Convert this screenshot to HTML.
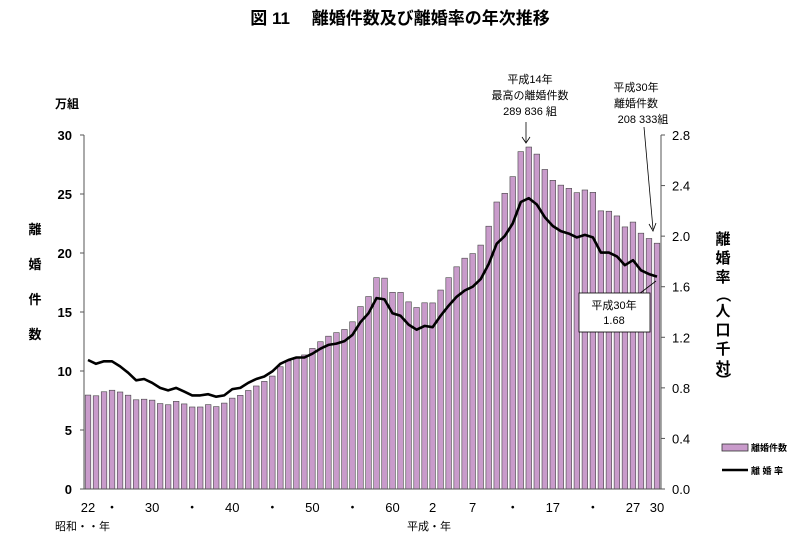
<!DOCTYPE html>
<html><head><meta charset="utf-8"><style>
body{margin:0;background:#fff;font-family:"Liberation Sans","Noto Sans CJK JP",sans-serif}
svg text{font-family:"Liberation Sans","Noto Sans CJK JP",sans-serif}
</style></head><body>
<svg id="c" width="801" height="540" viewBox="0 0 801 540">
<text x="400" y="24" text-anchor="middle" font-size="17" font-weight="bold">図 11　 離婚件数及び離婚率の年次推移</text>
<text x="55" y="108" font-size="12" font-weight="bold">万組</text>
<g font-size="13" font-weight="bold" text-anchor="middle">
<text x="35" y="234">離</text><text x="35" y="269">婚</text><text x="35" y="304">件</text><text x="35" y="339">数</text></g>
<g font-size="15" font-weight="bold" text-anchor="middle">
<text x="723" y="244">離</text><text x="723" y="263">婚</text><text x="723" y="282">率</text><text x="723" y="300" transform="rotate(90 723 295)">（</text><text x="723" y="316">人</text><text x="723" y="335">口</text><text x="723" y="354">千</text><text x="723" y="373">対</text><text x="723" y="385" transform="rotate(90 723 380)">）</text></g>
<g id="plot"></g>
<g font-size="11" text-anchor="middle">
<text x="530" y="83">平成14年</text><text x="530" y="99">最高の離婚件数</text><text x="530" y="115">289 836 組</text>
<line x1="526" y1="122" x2="526" y2="142" stroke="#000" stroke-width="0.8"/><path d="M522,137 L526,143 L530,137" fill="none" stroke="#000" stroke-width="0.8"/></g>
<g font-size="11" text-anchor="middle">
<text x="636" y="91">平成30年</text><text x="636" y="107">離婚件数</text><text x="643" y="123">208 333組</text>
<line x1="644" y1="127" x2="653" y2="229" stroke="#000" stroke-width="0.8"/><path d="M649,224 L653,231 L656,223" fill="none" stroke="#000" stroke-width="0.8"/></g>
<g>
<line x1="639" y1="294" x2="656" y2="281" stroke="#000" stroke-width="0.8"/>
<rect x="579" y="293" width="71" height="39" fill="#fff" stroke="#000" stroke-width="0.8"/>
<text x="614" y="309" font-size="11" text-anchor="middle">平成30年</text><text x="614" y="324" font-size="11" text-anchor="middle">1.68</text></g>
<g>
<rect x="722" y="444" width="26" height="7" fill="#c99bcb" stroke="#333" stroke-width="0.8"/>
<text x="751" y="451" font-size="9" font-weight="bold">離婚件数</text>
<line x1="722" y1="470" x2="748" y2="470" stroke="#000" stroke-width="2.5"/>
<text x="751" y="474" font-size="9" font-weight="bold">離 婚 率</text></g>
<text x="55" y="530" font-size="11">昭和・・年</text>
<text x="407" y="530" font-size="11">平成・年</text>
</svg>
<script>
const counts=[7.96,7.90,8.24,8.37,8.22,7.95,7.56,7.61,7.53,7.24,7.14,7.43,7.21,6.95,6.95,7.15,6.98,7.28,7.70,7.94,8.35,8.73,9.12,9.57,10.36,10.86,11.15,11.36,11.91,12.48,12.95,13.25,13.52,14.17,15.46,16.31,17.91,17.87,16.67,16.66,15.86,15.38,15.78,15.77,16.86,17.91,18.83,19.56,19.95,20.67,22.27,24.32,25.06,26.47,28.59,28.98,28.38,27.08,26.16,25.75,25.48,25.11,25.34,25.14,23.57,23.54,23.14,22.21,22.62,21.68,21.23,20.83];
const rates=[1.02,0.99,1.01,1.01,0.97,0.92,0.86,0.87,0.84,0.80,0.78,0.80,0.77,0.74,0.74,0.75,0.73,0.74,0.79,0.80,0.84,0.87,0.89,0.93,0.99,1.02,1.04,1.04,1.07,1.11,1.14,1.15,1.17,1.22,1.32,1.39,1.51,1.50,1.39,1.37,1.30,1.26,1.29,1.28,1.37,1.45,1.52,1.57,1.60,1.66,1.78,1.94,2.00,2.10,2.27,2.30,2.25,2.15,2.08,2.04,2.02,1.99,2.01,1.99,1.87,1.87,1.84,1.77,1.81,1.73,1.70,1.68];
const xLabelIdx=[0,3,8,13,18,23,28,33,38,43,48,53,58,63,68,71];
const xLabels=["22","・","30","・","40","・","50","・","60","2","7","・","17","・","27","30"];
const leftTicks=[0,5,10,15,20,25,30];
const rightTicks=[0.0,0.4,0.8,1.2,1.6,2.0,2.4,2.8];
const NS="http://www.w3.org/2000/svg";
const g=document.getElementById('plot');
const X0=84,X1=661,Y0=489,YT=135;
const xs=i=>88+i*(657-88)/(counts.length-1);
const yl=v=>Y0-(v/30)*(Y0-YT);
const yr=v=>Y0-(v/2.8)*(Y0-YT);
function mk(t,a){const e=document.createElementNS(NS,t);for(const k in a)e.setAttribute(k,a[k]);g.appendChild(e);return e;}
counts.forEach((v,i)=>{const r=mk('rect',{x:xs(i)-2.8,y:yl(v),width:5.6,height:Y0-yl(v),fill:'#c99bcb',stroke:'#444','stroke-width':0.6});

});
let d=rates.map((v,i)=>(i?'L':'M')+xs(i).toFixed(1)+','+yr(v).toFixed(1)).join(' ');
const ln=mk('path',{d:d,fill:'none',stroke:'#000','stroke-width':2.6,'stroke-linejoin':'round'});


const la=mk('line',{x1:X0,y1:YT,x2:X0,y2:Y0,stroke:'#555','stroke-width':1});


const ra=mk('line',{x1:X1,y1:YT,x2:X1,y2:Y0,stroke:'#555','stroke-width':1});


const xa=mk('line',{x1:X0,y1:Y0,x2:X1,y2:Y0,stroke:'#555','stroke-width':1});


leftTicks.forEach(v=>{mk('line',{x1:X0-4,y1:yl(v),x2:X0,y2:yl(v),stroke:'#555'});
const t=mk('text',{x:X0-12,y:yl(v)+5,'font-size':13,'font-weight':'bold','text-anchor':'end'});t.textContent=v;

});
rightTicks.forEach(v=>{mk('line',{x1:X1,y1:yr(v),x2:X1+4,y2:yr(v),stroke:'#555'});
const t=mk('text',{x:X1+11,y:yr(v)+5,'font-size':13});t.textContent=v.toFixed(1);

});
xLabelIdx.forEach((idx,k)=>{const t=mk('text',{x:xs(idx),y:512,'font-size':13,'text-anchor':'middle'});t.textContent=xLabels[k];

});
</script>
</body></html>
